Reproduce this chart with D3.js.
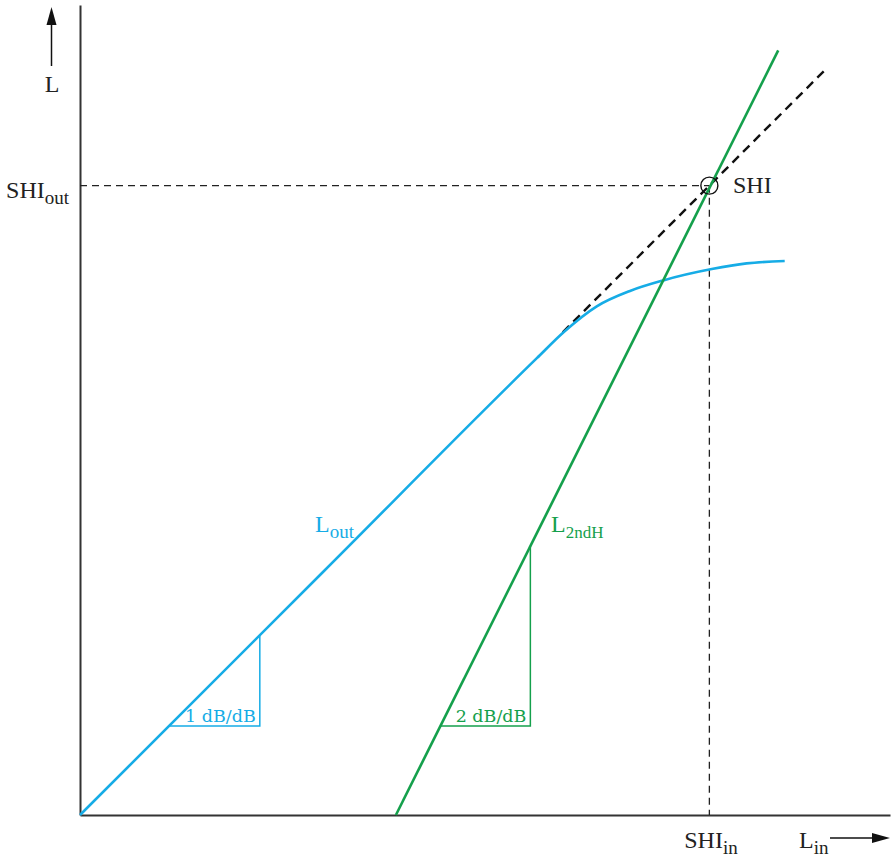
<!DOCTYPE html>
<html>
<head>
<meta charset="utf-8">
<script src="https://cdn.jsdelivr.net/npm/d3@7"></script>
<style>
  html, body { margin: 0; padding: 0; background: #fff; }
  svg text { font-family: "Liberation Serif", "DejaVu Serif", serif; }
</style>
</head>
<body>
<svg id="chart" width="891" height="860"></svg>
<script>
// ---- data (dB units) ----
const loutX = [0, 30, 56.4, 59.7, 63.8, 67.9, 72, 78, 82.3, 87];
const loutY = [0, 30, 56.4, 59.6, 62.8, 64.7, 66, 67.4, 68.1, 68.4];
const l2ndX = [39, 86.2];
const l2ndY = [0, 94.4];
const extrapX = [59.6, 92.0];
const extrapY = [59.6, 92.0];
const shiIn = 77.7;
const shiOut = 77.7;
const tri1X = [11, 22.2, 22.2];
const tri1Y = [11, 11, 22.2];
const tri2X = [44.5, 55.6, 55.6];
const tri2Y = [11, 11, 33.2];
const xDomain = [0, 100];
const yDomain = [0, 100];

const blue = "#16ace6";
const green = "#15a04c";

const svg = d3.select("#chart");
const x = d3.scaleLinear().domain(xDomain).range([80, 890]);
const y = d3.scaleLinear().domain(yDomain).range([815, 5]);

const line = d3.line().x(d => x(d[0])).y(d => y(d[1]));
const zip = (a, b) => a.map((v, i) => [v, b[i]]);

// axes
svg.append("g").attr("transform", "translate(80,0)")
  .call(d3.axisLeft(y).tickValues([]).tickSizeOuter(0))
  .select(".domain").attr("stroke", "#333").attr("stroke-width", 2);
svg.append("g").attr("transform", "translate(0,815)")
  .call(d3.axisBottom(x).tickValues([]).tickSizeOuter(0))
  .select(".domain").attr("stroke", "#333").attr("stroke-width", 2);

// reference dashed lines
svg.append("path").attr("d", line([[0, shiOut], [shiIn, shiOut]]))
  .attr("fill", "none").attr("stroke", "#222").attr("stroke-width", 1.3).attr("stroke-dasharray", "7,5");
svg.append("path").attr("d", line([[shiIn, shiOut], [shiIn, 0]]))
  .attr("fill", "none").attr("stroke", "#222").attr("stroke-width", 1.3).attr("stroke-dasharray", "7,5");

// slope triangles
svg.append("path").attr("d", line(zip(tri1X, tri1Y)))
  .attr("fill", "none").attr("stroke", blue).attr("stroke-width", 1.5);
svg.append("path").attr("d", line(zip(tri2X, tri2Y)))
  .attr("fill", "none").attr("stroke", green).attr("stroke-width", 1.5);

// extrapolated dashed line
svg.append("path").attr("d", line(zip(extrapX, extrapY)))
  .attr("fill", "none").attr("stroke", "#111").attr("stroke-width", 2.4).attr("stroke-dasharray", "9,6");

// L_out curve
svg.append("path").attr("d", d3.line().x(d => x(d[0])).y(d => y(d[1])).curve(d3.curveMonotoneX)(zip(loutX, loutY)))
  .attr("fill", "none").attr("stroke", blue).attr("stroke-width", 2.6);

// L_2ndH line
svg.append("path").attr("d", line(zip(l2ndX, l2ndY)))
  .attr("fill", "none").attr("stroke", green).attr("stroke-width", 2.6);

// SHI circle
svg.append("circle").attr("cx", x(shiIn)).attr("cy", y(shiOut)).attr("r", 8.5)
  .attr("fill", "none").attr("stroke", "#111").attr("stroke-width", 1.4);

// arrows
svg.append("line").attr("x1", 51.5).attr("x2", 51.5).attr("y1", 66).attr("y2", 22)
  .attr("stroke", "#111").attr("stroke-width", 1.5);
svg.append("path").attr("d", "M51.5,7 L46.5,25 L56.5,25 Z").attr("fill", "#111");
svg.append("line").attr("x1", 830).attr("x2", 874).attr("y1", 838).attr("y2", 838)
  .attr("stroke", "#111").attr("stroke-width", 1.5);
svg.append("path").attr("d", "M890,838 L872,833 L872,843 Z").attr("fill", "#111");

// labels
function subText(xp, yp, main, sub, color, anchor, size, subSize, subFont) {
  const t = svg.append("text").attr("x", xp).attr("y", yp).attr("fill", color)
    .attr("text-anchor", anchor).attr("font-size", size);
  t.append("tspan").text(main);
  const s = t.append("tspan").attr("dy", 6).attr("font-size", subSize).text(sub);
  if (subFont) s.style("font-family", subFont);
  return t;
}
svg.append("text").attr("x", 52).attr("y", 92).attr("text-anchor", "middle")
  .attr("font-size", 24).attr("fill", "#222").text("L");
subText(69, 198, "SHI", "out", "#222", "end", 24, 19);
subText(711, 848, "SHI", "in", "#222", "middle", 24, 19);
subText(799, 848, "L", "in", "#222", "start", 24, 19);
svg.append("text").attr("x", 733).attr("y", 193).attr("font-size", 24).attr("fill", "#222").text("SHI");
subText(315, 532, "L", "out", blue, "start", 24, 19);
subText(551, 532, "L", "2ndH", green, "start", 24, 17);

svg.append("text").attr("x", x(22.2) - 4).attr("y", y(11) - 4).attr("text-anchor", "end")
  .style("font-family", "DejaVu Serif")
  .attr("font-size", 17.5).attr("fill", blue).text("1 dB/dB");
svg.append("text").attr("x", x(55.6) - 4).attr("y", y(11) - 4).attr("text-anchor", "end")
  .style("font-family", "DejaVu Serif")
  .attr("font-size", 17.5).attr("fill", green).text("2 dB/dB");
</script>
</body>
</html>
